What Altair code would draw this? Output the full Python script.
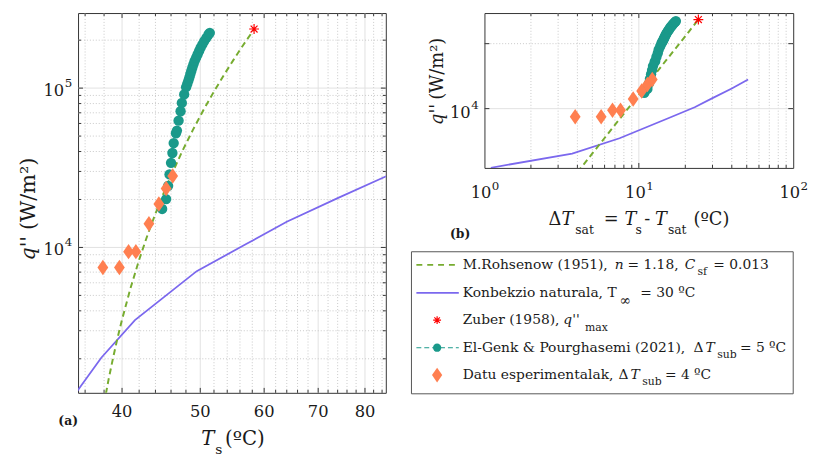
import altair as alt
import pandas as pd

# ---------------- data ----------------
T_SAT = 34.0  # T_s = dT_sat + T_sat

rohs_dT = [4.0, 4.5, 5.0, 5.5, 6.0, 7.0, 8.0, 9.0, 10.0, 11.0, 12.0, 13.5, 15.0,
           16.5, 18.0, 19.5, 21.0, 22.5, 24.3]
rohs_q = [1050, 1490, 2040, 2720, 3530, 5600, 8370, 11900, 16300, 21700, 28200,
          40200, 55100, 73400, 95300, 121000, 151000, 186000, 234000]

nat_dT = [1.1, 3.7, 7.5, 15.5, 23.0, 30.0, 40.0, 51.0]
nat_q = [1230, 2030, 3500, 7100, 10500, 14500, 20400, 28000]

zuber_dT = [24.3]
zuber_q = [235000]

elgenk_dT = [10.85, 11.36, 11.62, 11.80, 12.00, 12.18, 12.35, 12.65, 12.78, 13.00,
             13.27, 13.44, 13.76, 14.02, 14.18, 14.34, 14.48, 14.61, 14.75, 14.89,
             15.05, 15.21, 15.42, 15.63, 15.84, 16.05, 16.31, 16.57, 16.88, 17.19, 17.38]
elgenk_q = [17440, 20120, 24360, 28740, 33960, 39160, 45170, 52110, 54150, 62450,
            71610, 80740, 91270, 101400, 106300, 111500, 116900, 122600, 128600, 134900,
            141500, 148300, 155600, 163200, 171100, 179400, 188200, 197300, 206900,
            217000, 222300]

exp_dT = [3.87, 5.70, 6.75, 7.61, 9.19, 10.43, 11.36, 12.22]
exp_q = [7490, 7490, 9410, 9410, 14080, 18740, 23440, 28090]

# axis ticks / labels
ts_major = [40, 50, 60, 70, 80]
ts_minor = [36, 38, 42, 44, 46, 48, 52, 54, 56, 58, 62, 64, 66, 68, 72, 74, 76, 78, 82, 84]
ts_labels = ["40", "50", "60", "70", "80"]
q_major = [1e4, 1e5]
q_minor = [2000, 3000, 4000, 5000, 6000, 7000, 8000, 9000,
           20000, 30000, 40000, 50000, 60000, 70000, 80000, 90000, 200000]
qA_exp = ["4", "5"]
qB_major = [1e4]
qB_exp = ["4"]
dT_major = [1, 10, 100]
dT_exp = ["0", "1", "2"]
dT_minor = [2, 3, 4, 5, 6, 7, 8, 9, 20, 30, 40, 50, 60, 70, 80, 90]

TS_DOMAIN = [35.28, 84.9]
DT_DOMAIN = [1, 100]
Q_DOMAIN = [1223, 2.96e5]

# ---------------- style ----------------
FONT = "DejaVu Serif"
WA, HA = 312, 385
WB, HB = 313, 157
C_ROHS = "#77AC30"
C_NAT = "#7B68EE"
C_ZUB = "#FF0000"
C_ELG = "#1A998A"
C_EXP = "#FF7F50"
G_MAJ = "#e2e2e2"
G_MIN = "#c8c8c8"
C_TICK = "#333333"
C_TXT = "#1a1a1a"

TICK_FS, EXP_FS = 16.5, 12

DIAMOND = "M0,-1L0.7,0L0,1L-0.7,0Z"
ASTER = "M-1,0L1,0M0,-1L0,1M-0.7,-0.7L0.7,0.7M-0.7,0.7L0.7,-0.7"

xA = alt.Scale(type="log", domain=TS_DOMAIN, nice=False)
xB = alt.Scale(type="log", domain=DT_DOMAIN, nice=False)
yQ = alt.Scale(type="log", domain=Q_DOMAIN, nice=False)

ONE = pd.DataFrame({"k": [0]})


def vrules(vals, xs, y0, y1, color, dash=None, width=1):
    kw = dict(color=color, strokeWidth=width)
    if dash:
        kw["strokeDash"] = dash
    return alt.Chart(pd.DataFrame({"v": vals})).mark_rule(**kw).encode(
        x=alt.X("v:Q", scale=xs, axis=None), y=alt.value(y0), y2=alt.value(y1))


def hrules(vals, x0, x1, color, dash=None, width=1):
    kw = dict(color=color, strokeWidth=width)
    if dash:
        kw["strokeDash"] = dash
    return alt.Chart(pd.DataFrame({"v": vals})).mark_rule(**kw).encode(
        y=alt.Y("v:Q", scale=yQ, axis=None), x=alt.value(x0), x2=alt.value(x1))


def series(dT, q, on_ts):
    c = alt.Chart(pd.DataFrame({"dT": dT, "q": q}))
    if on_ts:
        return c.transform_calculate(xv=f"datum.dT + {T_SAT}")
    return c.transform_calculate(xv="datum.dT")


def panel_marks(xs, on_ts):
    enc = dict(x=alt.X("xv:Q", scale=xs, axis=None), y=alt.Y("q:Q", scale=yQ, axis=None))
    nat = series(nat_dT, nat_q, on_ts).mark_line(
        color=C_NAT, strokeWidth=1.8, clip=True).encode(**enc, order="dT:Q")
    rohs = series(rohs_dT, rohs_q, on_ts).mark_line(
        color=C_ROHS, strokeWidth=2, strokeDash=[6, 4], clip=True).encode(**enc, order="dT:Q")
    elg = series(elgenk_dT, elgenk_q, on_ts).mark_point(
        shape="circle", filled=True, size=110, color=C_ELG, opacity=1).encode(**enc)
    exp = series(exp_dT, exp_q, on_ts).mark_point(
        shape=DIAMOND, filled=True, size=245, color=C_EXP, opacity=1).encode(**enc)
    zub = series(zuber_dT, zuber_q, on_ts).mark_point(
        shape=ASTER, filled=False, size=100, color=C_ZUB, strokeWidth=1.2, opacity=1).encode(**enc)
    return [nat, rohs, elg, exp, zub]


def texts(rows, style="normal", weight="normal", align="left", color=C_TXT):
    d = pd.DataFrame(rows, columns=["px", "py", "t", "fs", "ang"])
    return alt.Chart(d).mark_text(font=FONT, fontStyle=style, fontWeight=weight,
                                  align=align, baseline="middle", color=color).encode(
        x=alt.X("px:Q", scale=None, axis=None),
        y=alt.Y("py:Q", scale=None, axis=None),
        text="t:N",
        size=alt.Size("fs:Q", scale=None, legend=None),
        angle=alt.Angle("ang:Q", scale=None, legend=None))


# ---------------- panel (a) ----------------
a_layers = [
    vrules(ts_minor, xA, 0, HA, G_MIN, [1, 2]),
    vrules(ts_major, xA, 0, HA, G_MAJ),
    hrules(q_minor, 0, WA, G_MIN, [1, 2]),
    hrules(q_major, 0, WA, G_MAJ),
]
a_layers += panel_marks(xA, True)
a_layers += [
    vrules(ts_major, xA, HA - 5, HA, C_TICK), vrules(ts_minor, xA, HA - 3, HA, C_TICK),
    vrules(ts_major, xA, 0, 5, C_TICK), vrules(ts_minor, xA, 0, 3, C_TICK),
    hrules(q_major, 0, 5, C_TICK), hrules(q_minor, 0, 3, C_TICK),
    hrules(q_major, WA - 5, WA, C_TICK), hrules(q_minor, WA - 3, WA, C_TICK),
]
a_layers.append(alt.Chart(pd.DataFrame({"v": ts_major, "t": ts_labels})).mark_text(
    font=FONT, fontSize=TICK_FS, align="center", baseline="middle", color=C_TXT).encode(
    x=alt.X("v:Q", scale=xA, axis=None), y=alt.value(405), text="t:N"))
a_layers.append(alt.Chart(pd.DataFrame({"v": q_major, "t": ["10", "10"]})).mark_text(
    font=FONT, fontSize=TICK_FS, align="right", baseline="middle", dy=3, color=C_TXT).encode(
    y=alt.Y("v:Q", scale=yQ, axis=None), x=alt.value(-14), text="t:N"))
a_layers.append(alt.Chart(pd.DataFrame({"v": q_major, "t": qA_exp})).mark_text(
    font=FONT, fontSize=EXP_FS, align="left", baseline="middle", dy=-5, color=C_TXT).encode(
    y=alt.Y("v:Q", scale=yQ, axis=None), x=alt.value(-13.5), text="t:N"))
a_layers.append(texts([[125, 432, "T", 20, 0]], style="italic"))
a_layers.append(texts([[139, 443, "s", 14, 0], [149, 432, "(ºC)", 20, 0]]))
a_layers.append(texts([[-50, 226, "q''", 21, 270]], style="italic", align="right"))
a_layers.append(texts([[-50, 220, "(W/m²)", 21, 270]]))
a_layers.append(texts([[-20, 414, "(a)", 12.5, 0]], weight="bold"))

panel_a = alt.layer(*a_layers).resolve_scale(
    x="independent", y="independent", size="independent", angle="independent"
).properties(width=WA, height=HA)

# ---------------- panel (b) ----------------
b_layers = [
    vrules(dT_minor, xB, 0, HB, G_MIN, [1, 2]),
    vrules([10], xB, 0, HB, G_MAJ),
    hrules([1e5], 0, WB, G_MIN, [1, 2]),
    hrules(qB_major, 0, WB, G_MAJ),
]
b_layers += panel_marks(xB, False)
b_layers += [
    vrules([10], xB, HB - 5, HB, C_TICK), vrules(dT_minor, xB, HB - 3, HB, C_TICK),
    vrules([10], xB, 0, 5, C_TICK), vrules(dT_minor, xB, 0, 3, C_TICK),
    hrules(q_major, 0, 5, C_TICK), hrules(q_major, WB - 5, WB, C_TICK),
]
b_layers.append(alt.Chart(pd.DataFrame({"v": dT_major, "t": ["10"] * 3})).mark_text(
    font=FONT, fontSize=TICK_FS, align="right", baseline="middle", dx=7, color=C_TXT).encode(
    x=alt.X("v:Q", scale=xB, axis=None), y=alt.value(182.8), text="t:N"))
b_layers.append(alt.Chart(pd.DataFrame({"v": dT_major, "t": dT_exp})).mark_text(
    font=FONT, fontSize=EXP_FS, align="left", baseline="middle", dx=7.5, color=C_TXT).encode(
    x=alt.X("v:Q", scale=xB, axis=None), y=alt.value(175.8), text="t:N"))
b_layers.append(alt.Chart(pd.DataFrame({"v": qB_major, "t": ["10"]})).mark_text(
    font=FONT, fontSize=TICK_FS, align="right", baseline="middle", dy=5, color=C_TXT).encode(
    y=alt.Y("v:Q", scale=yQ, axis=None), x=alt.value(-14), text="t:N"))
b_layers.append(alt.Chart(pd.DataFrame({"v": qB_major, "t": qB_exp})).mark_text(
    font=FONT, fontSize=EXP_FS, align="left", baseline="middle", dy=-4, color=C_TXT).encode(
    y=alt.Y("v:Q", scale=yQ, axis=None), x=alt.value(-13.5), text="t:N"))
b_layers.append(texts([[78, 210, "T", 18, 0], [142, 210, "T", 18, 0], [173, 210, "T", 18, 0]],
                      style="italic"))
b_layers.append(texts([[65, 210, "Δ", 18, 0], [92, 220, "sat", 12.5, 0], [121, 210, "=", 18, 0],
                       [153, 220, "s", 12.5, 0], [162, 210, "-", 18, 0], [186, 220, "sat", 12.5, 0],
                       [212, 210, "(ºC)", 18, 0]]))
b_layers.append(texts([[-47, 92, "q''", 18, 270]], style="italic", align="right"))
b_layers.append(texts([[-47, 88, "(W/m²)", 18, 270]]))
b_layers.append(texts([[-35, 224, "(b)", 12.5, 0]], weight="bold"))

# ---------------- legend (drawn below panel b) ----------------
LX0, LX1, LY0, LY1 = -74, 313, 242, 386
rows_y = [255.3, 283.7, 311.3, 339.3, 367.0]
SX0, SX1, SXC = -69, -26, -48
b_layers.append(alt.Chart(ONE).mark_rect(fill="white", stroke="#555555", strokeWidth=1).encode(
    x=alt.value(LX0), x2=alt.value(LX1), y=alt.value(LY0), y2=alt.value(LY1)))
b_layers.append(alt.Chart(ONE).mark_rule(color=C_ROHS, strokeWidth=2, strokeDash=[6, 5]).encode(
    x=alt.value(SX0), x2=alt.value(SX1), y=alt.value(rows_y[0])))
b_layers.append(alt.Chart(ONE).mark_rule(color=C_NAT, strokeWidth=1.8).encode(
    x=alt.value(SX0), x2=alt.value(SX1), y=alt.value(rows_y[1])))
b_layers.append(alt.Chart(ONE).mark_point(shape=ASTER, filled=False, size=64, color=C_ZUB,
                                          strokeWidth=1.2, opacity=1).encode(
    x=alt.value(SXC), y=alt.value(rows_y[2])))
b_layers.append(alt.Chart(ONE).mark_rule(color=C_ELG, strokeWidth=1, strokeDash=[5, 3]).encode(
    x=alt.value(SX0), x2=alt.value(SX1), y=alt.value(rows_y[3])))
b_layers.append(alt.Chart(ONE).mark_point(shape="circle", filled=True, size=70, color=C_ELG,
                                          opacity=1).encode(
    x=alt.value(SXC), y=alt.value(rows_y[3])))
b_layers.append(alt.Chart(ONE).mark_point(shape=DIAMOND, filled=True, size=220, color=C_EXP,
                                          opacity=1).encode(
    x=alt.value(SXC), y=alt.value(rows_y[4])))

LF, LS = 14, 11
r1, r2, r3, r4, r5 = rows_y
b_layers.append(texts([
    [-22, r1, "M.Rohsenow (1951),", LF, 0], [145, r1, "= 1.18,", LF, 0],
    [216, r1 + 7, "sf", LS, 0], [232, r1, "= 0.013", LF, 0],
    [-22, r2, "Konbekzio naturala, T", LF, 0], [137, r2 + 8, "∞", 14, 0],
    [158, r2, "= 30 ºC", LF, 0],
    [-22, r3, "Zuber (1958),", LF, 0], [102, r3 + 8, "max", LS, 0],
    [-22, r4, "El-Genk & Pourghasemi (2021),", LF, 0], [212, r4, "Δ", LF, 0],
    [236, r4 + 7, "sub", LS, 0], [259, r4, "= 5 ºC", LF, 0],
    [-22, r5, "Datu esperimentalak,", LF, 0], [136, r5, "Δ", LF, 0],
    [160, r5 + 7, "sub", LS, 0], [183, r5, "= 4 ºC", LF, 0],
]))
b_layers.append(texts([
    [132, r1, "n", LF, 0], [203, r1, "C", LF, 0], [80, r3, "q''", LF, 0],
    [224, r4, "T", LF, 0], [148, r5, "T", LF, 0],
], style="italic"))

panel_b = alt.layer(*b_layers).resolve_scale(
    x="independent", y="independent", size="independent", angle="independent"
).properties(width=WB, height=HB)

chart = alt.hconcat(panel_a, panel_b, spacing=100, bounds="flush").properties(
    padding={"left": 9, "top": 0, "right": 0, "bottom": 0}
).configure_view(stroke="#333333", strokeWidth=1)

chart.save("out.html", embed_options={"renderer": "svg", "actions": False})
